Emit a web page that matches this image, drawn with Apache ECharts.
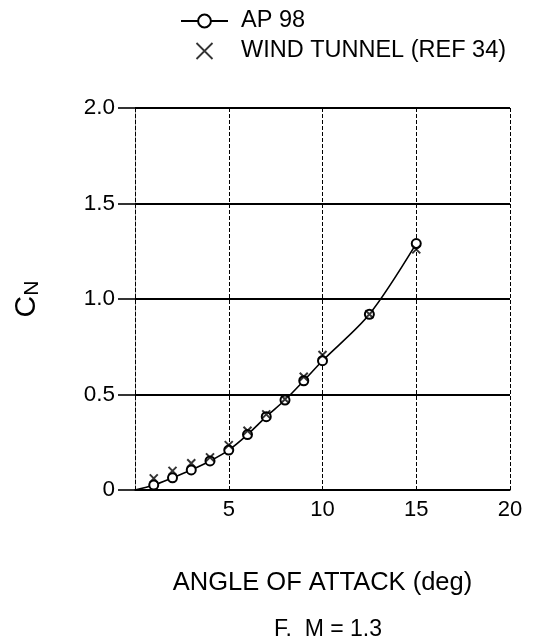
<!DOCTYPE html>
<html>
<head>
<meta charset="utf-8">
<script src="https://cdn.jsdelivr.net/npm/echarts@6/dist/echarts.min.js"></script>
<style>
html,body{margin:0;padding:0;background:#fff;}
#chart{width:535px;height:644px;}
</style>
</head>
<body>
<div id="chart"></div>
<script>
// AP 98 prediction (line with circles); first point is the curve start at the origin
var apAlpha = [0, 1, 2, 3, 4, 5, 6, 7, 8, 9, 10, 12.5, 15];
var apCN    = [0, 0.026, 0.064, 0.105, 0.152, 0.209, 0.29, 0.384, 0.471, 0.572, 0.677, 0.92, 1.29];
// Wind tunnel data (REF 34)
var wtAlpha = [1, 2, 3, 4, 5, 6, 7, 8, 9, 10, 12.5, 15];
var wtCN    = [0.061, 0.10, 0.14, 0.171, 0.235, 0.31, 0.396, 0.475, 0.593, 0.707, 0.92, 1.26];
// Axis ticks
var xTicks = [0, 5, 10, 15, 20];
var yTicks = [0, 0.5, 1.0, 1.5, 2.0];

var FONT = '"Liberation Sans", Arial, Helvetica, sans-serif';
var X_PATH = 'path://M0,0L10,10M10,0L0,10';

var apData = apAlpha.map(function (a, i) {
  var d = {value: [a, apCN[i]]};
  if (i === 0) { d.symbol = 'none'; }
  return d;
});
var wtData = wtAlpha.map(function (a, i) { return [a, wtCN[i]]; });

var chart = echarts.init(document.getElementById('chart'), null, {renderer: 'canvas'});
chart.setOption({
  backgroundColor: '#ffffff',
  animation: false,
  textStyle: {fontFamily: FONT, color: '#000'},
  title: {
    text: 'F.  M = 1.3',
    left: 323, top: 613, textAlign: 'center',
    textStyle: {fontFamily: FONT, fontSize: 23, fontWeight: 'normal', color: '#000'}
  },
  legend: {
    orient: 'vertical',
    left: 175, top: 4,
    itemGap: 6,
    itemWidth: 47, itemHeight: 16,
    symbolKeepAspect: true,
    textStyle: {fontFamily: FONT, fontSize: 23.5, color: '#000', padding: [0, 0, 0, 8]},
    data: [
      {name: 'AP 98'},
      {name: 'WIND TUNNEL (REF 34)', icon: X_PATH,
       itemStyle: {color: 'none', borderColor: '#000', borderWidth: 1.8}}
    ]
  },
  grid: {left: 135, right: 25, top: 108, bottom: 154, containLabel: false},
  xAxis: {
    type: 'value',
    min: xTicks[0], max: xTicks[xTicks.length - 1], interval: 5,
    name: 'ANGLE OF ATTACK (deg)',
    nameLocation: 'middle', nameGap: 80,
    nameTextStyle: {fontFamily: FONT, fontSize: 25.5, color: '#000'},
    axisLine: {show: true, lineStyle: {color: '#000', width: 1.5}},
    axisTick: {show: false},
    axisLabel: {
      fontFamily: FONT, fontSize: 22, color: '#000', margin: 9,
      formatter: function (v) { return v === 0 ? '' : String(v); }
    },
    splitLine: {show: true, lineStyle: {color: '#000', width: 1, type: [4, 2]}}
  },
  yAxis: {
    type: 'value',
    min: yTicks[0], max: yTicks[yTicks.length - 1], interval: 0.5,
    name: 'C{sub|N}',
    nameLocation: 'middle', nameGap: 92, nameRotate: 90,
    nameTextStyle: {
      fontFamily: FONT, fontSize: 30, color: '#000',
      rich: {sub: {fontFamily: FONT, fontSize: 21, verticalAlign: 'bottom', padding: [12, 0, 0, 0]}}
    },
    axisLine: {show: true, lineStyle: {color: '#000', width: 1, type: [4, 2]}},
    axisTick: {show: true, length: 17, lineStyle: {color: '#000', width: 1.6}},
    axisLabel: {
      fontFamily: FONT, fontSize: 22.5, color: '#000', margin: 20,
      formatter: function (v) { return v === 0 ? '0' : v.toFixed(1); }
    },
    splitLine: {show: true, lineStyle: {color: '#000', width: 1.8, type: 'solid'}}
  },
  series: [
    {
      name: 'AP 98',
      type: 'line',
      data: apData,
      smooth: 0.3,
      symbol: 'emptyCircle',
      symbolSize: 9,
      showAllSymbol: true,
      lineStyle: {color: '#000', width: 1.6},
      itemStyle: {color: '#000', borderColor: '#000', borderWidth: 2.2},
      z: 3
    },
    {
      name: 'WIND TUNNEL (REF 34)',
      type: 'scatter',
      data: wtData,
      symbol: X_PATH,
      symbolSize: 8,
      itemStyle: {color: 'none', borderColor: '#000', borderWidth: 2},
      z: 4
    }
  ]
});
</script>
</body>
</html>
